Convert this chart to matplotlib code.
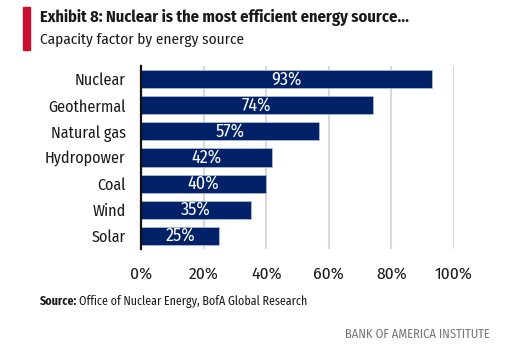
import matplotlib
matplotlib.use("Agg")
import matplotlib.pyplot as plt
from matplotlib.patches import Rectangle

plt.rcParams['font.family'] = ['Fira Sans Condensed', 'DejaVu Sans']

# capacity factor by energy source, percent
sources = ['Nuclear', 'Geothermal', 'Natural gas', 'Hydropower', 'Coal', 'Wind', 'Solar']
capacity = [93, 74, 57, 42, 40, 35, 25]
xticks = [0, 20, 40, 60, 80, 100]
xtick_labels = ['0%', '20%', '40%', '60%', '80%', '100%']

navy = '#012169'
red = '#c8102e'
ink = '#1a1a1a'

fig = plt.figure(figsize=(5.09, 3.47), dpi=100)
ax = fig.add_axes([0.277, 0.2824, 0.615, 0.5274])

ypos = list(range(len(sources)))
ax.barh(ypos, capacity, height=0.69, color=navy, edgecolor='#b8c0d8',
        linewidth=0.5, zorder=3)
for y, v in zip(ypos, capacity):
    ax.text(v / 2, y, f'{v}%', ha='center', va='center', color='white',
            fontsize=13, zorder=4)

ax.set_xlim(0, 100)
ax.set_ylim(len(sources) - 0.5, -0.5)
ax.set_yticks(ypos)
ax.set_yticklabels(sources, fontsize=11.6, color=ink)
ax.set_xticks(xticks)
ax.set_xticklabels(xtick_labels, fontsize=12.5, color=ink)
ax.tick_params(length=0)
ax.tick_params(axis='x', pad=12)
ax.tick_params(axis='y', pad=11)

for x in xticks[1:]:
    ax.axvline(x, color='#d9d9d9', linewidth=1.5, zorder=1)

for s in ['top', 'right', 'bottom']:
    ax.spines[s].set_visible(False)
ax.spines['left'].set_linewidth(1.6)
ax.spines['left'].set_color('#111111')
ax.spines['left'].set_zorder(5)

# header with red accent
fig.patches.append(Rectangle((23 / 509, 1 - 50 / 347), 7 / 509, 43 / 347,
                             transform=fig.transFigure, color=red))
fig.text(40 / 509, 1 - 17 / 347,
         'Exhibit 8: Nuclear is the most efficient energy source...',
         fontsize=11.8, fontweight='bold', color=ink, va='center')
fig.text(40 / 509, 1 - 40 / 347, 'Capacity factor by energy source',
         fontsize=11, color=ink, va='center')

# source and footer
src = fig.text(40 / 509, 1 - 301 / 347, 'Source:', fontsize=8.6,
               fontweight='bold', color=ink, va='center')
fig.canvas.draw()
bb = src.get_window_extent()
fig.text(bb.x1 / fig.bbox.width + 0.004, 1 - 301 / 347,
         'Office of Nuclear Energy, BofA Global Research',
         fontsize=8.6, color=ink, va='center')
fig.text(490 / 509, 1 - 334 / 347, 'BANK OF AMERICA INSTITUTE',
         fontsize=9, color='#777777', ha='right', va='center')

fig.savefig('out.png', dpi=100)
